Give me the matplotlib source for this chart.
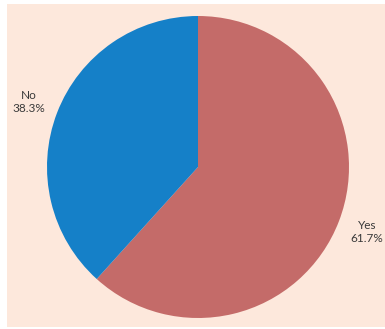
import matplotlib.pyplot as plt
from matplotlib.patches import Rectangle

labels = ["Yes", "No"]
shares = [61.7, 38.3]
colors = ["#C46B69", "#1580C8"]

W, H = 385, 329
fig = plt.figure(figsize=(W / 100, H / 100), dpi=100)
fig.patch.set_facecolor("white")

# peach panel behind the pie
fig.add_artist(Rectangle((7 / W, 2 / H), 1 - 7 / W, (H - 6) / H,
                         transform=fig.transFigure, facecolor="#FDE8DC",
                         edgecolor="none", zorder=0))

cx, cy, r = 198, 167, 151
ax = fig.add_axes([(cx - r) / W, (H - cy - r) / H, 2 * r / W, 2 * r / H])
ax.set_facecolor("none")

wedges, texts = ax.pie(shares, colors=colors, startangle=90, counterclock=False,
                       labels=[f"{l}\n{s}%" for l, s in zip(labels, shares)],
                       labeldistance=1.2,
                       textprops=dict(fontsize=8.5, color="#3a3a3a", family="Lato"))
for t in texts:
    t.set_ha("center")
    t.set_va("center")
    t.set_linespacing(1.25)

ax.set_xlim(-1, 1)
ax.set_ylim(-1, 1)
ax.set_aspect("equal")
ax.axis("off")

fig.savefig("out.png", dpi=100)
